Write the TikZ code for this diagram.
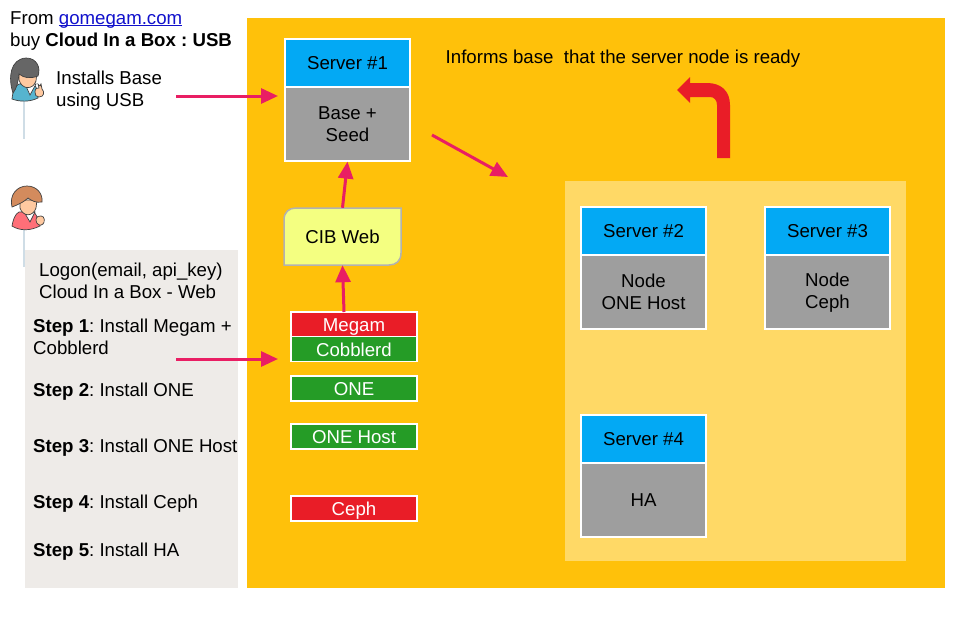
\documentclass[tikz,border=0pt]{standalone}
\usepackage{fontspec}
\setmainfont{Liberation Sans}
\frenchspacing
\definecolor{boxorange}{HTML}{FFC10A}
\definecolor{boxpale}{HTML}{FFD966}
\definecolor{srvblue}{HTML}{03A9F4}
\definecolor{srvgray}{HTML}{9E9E9E}
\definecolor{stepred}{HTML}{E91D27}
\definecolor{stepgreen}{HTML}{259C26}
\definecolor{panelgray}{HTML}{EEEBE8}
\definecolor{webyellow}{HTML}{F4FF81}
\definecolor{arrowpink}{HTML}{E91E63}
\definecolor{stemblue}{HTML}{CFDDE6}
\definecolor{linkblue}{HTML}{1111CC}
\definecolor{skin}{HTML}{FFC9A0}
\definecolor{hairbrown}{HTML}{D38B5D}
\definecolor{hairgray}{HTML}{666666}
\definecolor{shirtteal}{HTML}{56B4CF}
\definecolor{shirtred}{HTML}{FF6F78}
\usetikzlibrary{arrows.meta}
\newcommand{\lineup}{\rule{0pt}{14pt}}
\newcommand{\linedown}{\rule[-1.2pt]{0pt}{2pt}}
\tikzset{
  txt/.style={font=\fontsize{18.65}{22}\selectfont,inner sep=0pt},
  lefttxt/.style={txt,anchor=base west,align=left},
  srvhead/.style={txt,draw=white,line width=1.2pt,fill=srvblue,minimum width=125pt,minimum height=48pt},
  srvbody/.style={txt,draw=white,line width=1.2pt,fill=srvgray,minimum width=125pt,minimum height=74pt,align=center},
  stepbox/.style={txt,draw=white,line width=1.2pt,text=white,minimum width=126pt,minimum height=25pt,text height=14pt,text depth=0pt},
  pinkarrow/.style={draw=arrowpink,line width=3pt,-{Triangle[length=17pt,width=15pt]}},
  avline/.style={draw=black!75,line width=0.7pt}
}
\begin{document}
\begin{tikzpicture}[x=1pt,y=-1pt]
\useasboundingbox (0,0) rectangle (960,621);
\fill[white] (0,0) rectangle (960,621);
\fill[boxorange] (247,18) rectangle (945,588);
\fill[boxpale] (565,181) rectangle (906,561);
\fill[panelgray] (25,250) rectangle (238,588);

% first user
\draw[stemblue,line width=2pt] (23.5,101) -- (23.5,139);
\fill[avline,fill=shirtteal] (12,99) .. controls (13,90) and (15,86) .. (19,84) -- (34,84) .. controls (37,88) and (38,92) .. (38,98) .. controls (30,102) and (20,102) .. (12,99) -- cycle;
\fill[avline,fill=white] (25,84) -- (36,84) -- (30,95) -- cycle;
\fill[avline,fill=skin] (19,72) -- (37,72) -- (36,81) .. controls (33,90) and (22,90) .. (19,80) -- cycle;
\fill[avline,fill=hairgray] (13,93) .. controls (8,78) and (10,59) .. (26,58) .. controls (37,58) and (41,68) .. (38,76) .. controls (30,79) and (24,78) .. (19,74) .. controls (18,82) and (17,88) .. (13,93) -- cycle;
\fill[avline,fill=skin] (35,92) .. controls (35,89) and (37,87) .. (39,88) -- (38,84) -- (40,86) -- (41,84) -- (42,89) .. controls (45,92) and (44,97) .. (39,97) .. controls (36,97) and (35,95) .. (35,92) -- cycle;

% second user
\draw[stemblue,line width=2pt] (23.5,229) -- (23.5,267);
\fill[avline,fill=shirtred] (12,226) .. controls (13,220) and (15,214) .. (19,212) -- (34,212) .. controls (37,216) and (39,220) .. (40,226) .. controls (30,231) and (20,231) .. (12,226) -- cycle;
\fill[avline,fill=white] (24,212) -- (35,212) -- (30,222) -- cycle;
\fill[avline,fill=skin] (20,200) -- (37,200) -- (36,208) .. controls (33,217) and (23,217) .. (20,208) -- cycle;
\fill[avline,fill=hairbrown] (12,207) .. controls (9,195) and (17,186) .. (27,186) .. controls (37,186) and (43,194) .. (42,202) .. controls (36,203) and (32,201) .. (28,198) .. controls (25,201) and (20,204) .. (12,207) -- cycle;
\fill[avline,fill=skin] (36,220) .. controls (36,217) and (39,215) .. (41,216) .. controls (45,216) and (45,222) .. (43,224) .. controls (40,227) and (36,224) .. (36,220) -- cycle;

% left texts
\node[lefttxt] (buytext) at (10,46) {\lineup From \textcolor{linkblue}{\underline{\smash{gomegam.com}}}\\buy \textbf{Cloud In a Box : USB}};
\node[lefttxt] (usbtext) at (56,106.5) {Installs Base\\using USB};
\node[lefttxt] (logontext) at (39,298) {Logon(email, api\_key)\\Cloud In a Box - Web};
\node[lefttxt] (stepone) at (33,354) {\textbf{Step 1}: Install Megam +\\Cobblerd};
\node[lefttxt] (steptwo) at (33,396) {\textbf{Step 2}: Install ONE};
\node[lefttxt] (stepthree) at (33,452) {\textbf{Step 3}: Install ONE Host};
\node[lefttxt] (stepfour) at (33,508) {\textbf{Step 4}: Install Ceph};
\node[lefttxt] (stepfive) at (33,556) {\textbf{Step 5}: Install HA};
\node[lefttxt] (readytext) at (445.5,63) {Informs base\ \ that the server node is ready};

% servers
\node[srvhead] (headone) at (347.5,63) {Server \#1};
\node[srvbody] (bodyone) at (347.5,124) {\lineup Base +\\Seed\linedown};
\node[srvhead] (headtwo) at (643.5,231) {Server \#2};
\node[srvbody] (bodytwo) at (643.5,292) {\lineup Node\\ONE Host\linedown};
\node[srvhead] (headthree) at (827.5,231) {Server \#3};
\node[srvbody] (bodythree) at (827.5,292) {\lineup Node\\Ceph\linedown};
\node[srvhead] (headfour) at (643.5,439) {Server \#4};
\node[srvbody] (bodyfour) at (643.5,500) {HA};

% steps
\node[stepbox,fill=stepred] (megam) at (354,324.5) {Megam};
\node[stepbox,fill=stepgreen] (cobblerd) at (354,349) {Cobblerd};
\node[stepbox,fill=stepgreen] (onestep) at (354,388.5) {ONE};
\node[stepbox,fill=stepgreen] (onehost) at (354,436.5) {ONE Host};
\node[stepbox,fill=stepred] (ceph) at (354,508.5) {Ceph};

% web box
\draw[draw=black!30,line width=1.5pt,fill=webyellow] (401,208) -- (401,253) .. controls (401,261) and (396,265) .. (389,265) -- (284,265) -- (284,220) .. controls (284,212) and (289,208) .. (296,208) -- cycle;
\node[txt,minimum width=117pt,minimum height=57pt] (cibweb) at (342.5,236.5) {CIB Web};

% arrows
\coordinate (usbfrom) at (176,96);
\coordinate (usbto) at (278,96);
\coordinate (stepfrom) at (176,359);
\coordinate (stepto) at (278,359);
\coordinate (nodefrom) at (432,135);
\coordinate (nodeto) at (508,177);
\coordinate (megamtop) at (344,312);
\draw[pinkarrow] (usbfrom) -- (usbto);
\draw[pinkarrow] (stepfrom) -- (stepto);
\draw[pinkarrow] (nodefrom) -- (nodeto);
\draw[pinkarrow] (megamtop) -- (cibweb.south);
\draw[pinkarrow] (cibweb.north) -- (bodyone.south);

% informs arrow
\fill[stepred] (717,158) -- (730,158) -- (730,105) .. controls (730,91) and (721,83) .. (707,83) -- (690,83) -- (690,77) -- (677,90) -- (690,103) -- (690,97) -- (710,97) .. controls (714,97) and (717,100) .. (717,105) -- cycle;
\end{tikzpicture}
\end{document}
